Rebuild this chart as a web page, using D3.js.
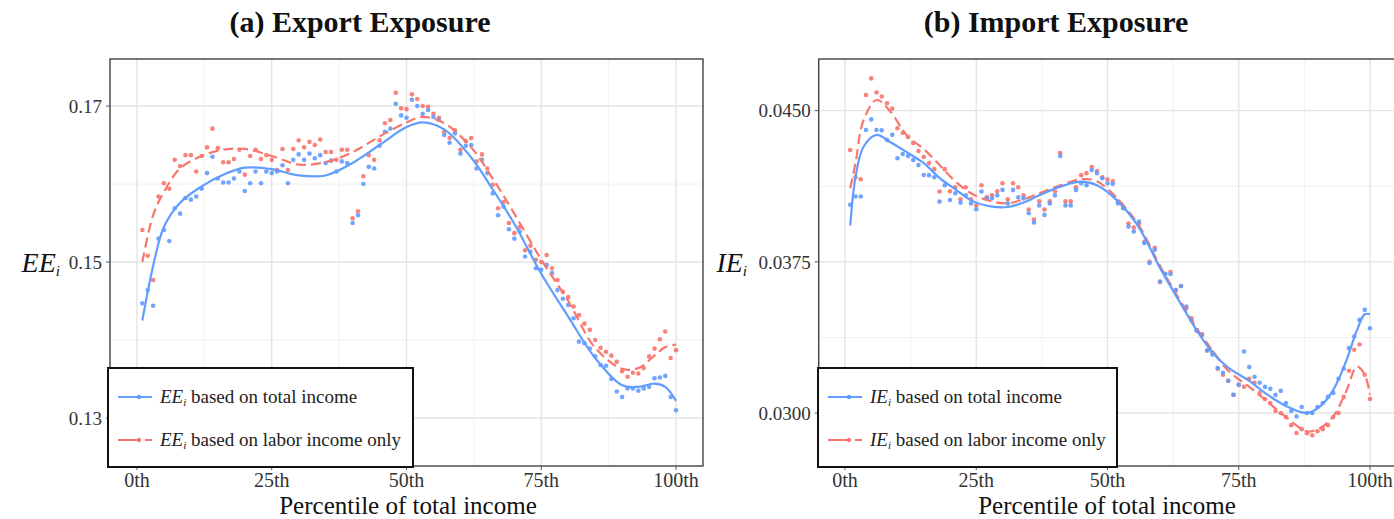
<!DOCTYPE html>
<html><head><meta charset="utf-8">
<script src="https://cdn.jsdelivr.net/npm/d3@7"></script>
<style>
body{margin:0;background:#fff}
svg{display:block}
text{font-family:"Liberation Serif","Times New Roman",serif}
</style>
</head><body>
<svg id="c" width="1394" height="519"></svg>
<script>
// ---------------- DATA ----------------
const percentiles = [1,2,3,4,5,6,7,8,9,10,11,12,13,14,15,16,17,18,19,20,21,22,23,24,25,26,27,28,29,30,31,32,33,34,35,36,37,38,39,40,41,42,43,44,45,46,47,48,49,50,51,52,53,54,55,56,57,58,59,60,61,62,63,64,65,66,67,68,69,70,71,72,73,74,75,76,77,78,79,80,81,82,83,84,85,86,87,88,89,90,91,92,93,94,95,96,97,98,99,100];
const xTickValues = [0, 25, 50, 75, 100];
const xTickLabels = ["0th", "25th", "50th", "75th", "100th"];
const xMinorValues = [12.5, 37.5, 62.5, 87.5];

// (a) Export exposure, by percentile
const eeTotal = [0.1447,0.1464,0.1444,0.1530,0.1541,0.1527,0.1569,0.1562,0.1582,0.1580,
0.1584,0.1594,0.1614,0.1635,0.1607,0.1602,0.1602,0.1607,0.1616,0.1591,
0.1601,0.1616,0.1601,0.1616,0.1614,0.1616,0.1624,0.1601,0.1631,0.1638,
0.1631,0.1639,0.1633,0.1637,0.1627,0.1630,0.1616,0.1629,0.1627,0.1550,
0.1560,0.1600,0.1622,0.1620,0.1649,0.1667,0.1671,0.1703,0.1688,0.1685,
0.1708,0.1700,0.1690,0.1695,0.1686,0.1682,0.1663,0.1653,0.1665,0.1639,
0.1649,0.1650,0.1620,0.1631,0.1614,0.1588,0.1560,0.1571,0.1542,0.1530,
0.1539,0.1507,0.1513,0.1492,0.1490,0.1496,0.1486,0.1464,0.1453,0.1445,
0.1428,0.1398,0.1396,0.1389,0.1379,0.1368,0.1367,0.1350,0.1334,0.1327,
0.1338,0.1338,0.1335,0.1338,0.1340,0.1351,0.1352,0.1354,0.1327,0.1310];
const eeLabor = [0.1541,0.1508,0.1477,0.1584,0.1601,0.1594,0.1631,0.1623,0.1637,0.1637,
0.1616,0.1636,0.1647,0.1671,0.1646,0.1628,0.1628,0.1632,0.1644,0.1612,
0.1636,0.1644,0.1632,0.1637,0.1631,0.1618,0.1645,0.1618,0.1645,0.1656,
0.1647,0.1654,0.1650,0.1657,0.1641,0.1641,0.1631,0.1644,0.1644,0.1556,
0.1565,0.1610,0.1637,0.1631,0.1656,0.1678,0.1682,0.1717,0.1697,0.1696,
0.1715,0.1709,0.1700,0.1699,0.1690,0.1685,0.1667,0.1659,0.1669,0.1644,
0.1655,0.1659,0.1629,0.1638,0.1620,0.1599,0.1569,0.1577,0.1550,0.1537,
0.1545,0.1515,0.1521,0.1503,0.1500,0.1509,0.1492,0.1477,0.1462,0.1455,
0.1443,0.1432,0.1421,0.1413,0.1400,0.1390,0.1385,0.1380,0.1372,0.1360,
0.1353,0.1358,0.1357,0.1364,0.1379,0.1389,0.1401,0.1411,0.1377,0.1387];
const eeSmoothPct   = [1,3,5,8,12,16,20,25,30,35,40,45,50,53,57,62,66,70,75,80,85,90,93,96,98,100];
const eeSmoothTotal = [0.1425,0.1495,0.1545,0.1576,0.1597,0.1612,0.1621,0.1619,0.1611,0.1611,0.1627,0.1650,0.1673,0.1679,0.1670,0.1634,0.1593,0.1549,0.1485,0.1430,0.1377,0.1342,0.1340,0.1344,0.1340,0.1322];
const eeSmoothLabor = [0.1500,0.1560,0.1590,0.1620,0.1636,0.1644,0.1645,0.1636,0.1625,0.1628,0.1641,0.1661,0.1679,0.1686,0.1678,0.1647,0.1607,0.1562,0.1503,0.1450,0.1390,0.1363,0.1364,0.1380,0.1391,0.1394];
const eeTicks = [0.13, 0.15, 0.17];
const eeTickLabels = ["0.13", "0.15", "0.17"];
const eeMinor = [0.14, 0.16];

// (b) Import exposure, by percentile
const ieTotal = [0.04033,0.04074,0.04074,0.04404,0.04457,0.04404,0.04403,0.04355,0.04380,0.04264,
0.04285,0.04275,0.04255,0.04230,0.04181,0.04180,0.04170,0.04049,0.04130,0.04057,
0.04090,0.04044,0.04080,0.04040,0.04011,0.04099,0.04065,0.04065,0.04080,0.04107,
0.04040,0.04107,0.04070,0.04065,0.03991,0.03945,0.04030,0.03983,0.04040,0.04080,
0.04275,0.04030,0.04030,0.04107,0.04140,0.04130,0.04206,0.04190,0.04165,0.04140,
0.04137,0.04040,0.04016,0.03925,0.03900,0.03950,0.03843,0.03744,0.03810,0.03652,
0.03690,0.03690,0.03610,0.03630,0.03528,0.03460,0.03410,0.03390,0.03310,0.03290,
0.03223,0.03200,0.03160,0.03091,0.03140,0.03305,0.03228,0.03180,0.03150,0.03130,
0.03120,0.03090,0.03110,0.03050,0.03010,0.02983,0.03030,0.03000,0.03000,0.03030,
0.03050,0.03080,0.03100,0.03170,0.03220,0.03322,0.03380,0.03462,0.03512,0.03421];
const ieLabor = [0.04305,0.04170,0.04160,0.04578,0.04660,0.04590,0.04570,0.04537,0.04510,0.04413,
0.04390,0.04370,0.04340,0.04300,0.04270,0.04240,0.04210,0.04099,0.04210,0.04100,
0.04120,0.04060,0.04120,0.04060,0.04030,0.04130,0.04070,0.04080,0.04100,0.04140,
0.04060,0.04140,0.04120,0.04080,0.04010,0.03960,0.04050,0.04010,0.04050,0.04100,
0.04290,0.04050,0.04050,0.04120,0.04180,0.04190,0.04220,0.04200,0.04170,0.04160,
0.04150,0.04050,0.04020,0.03940,0.03920,0.03940,0.03850,0.03750,0.03820,0.03650,
0.03690,0.03700,0.03610,0.03630,0.03520,0.03470,0.03410,0.03390,0.03310,0.03300,
0.03220,0.03190,0.03160,0.03090,0.03140,0.03130,0.03170,0.03150,0.03100,0.03070,
0.03050,0.03010,0.03000,0.02980,0.02940,0.02901,0.02920,0.02900,0.02890,0.02910,
0.02920,0.02940,0.02980,0.03000,0.03080,0.03210,0.03314,0.03340,0.03190,0.03070];
const ieSmoothPct   = [1,2,3.5,6,8.5,12,15,18,21,24,28,31,34,37,41,45,48,52,56,60,64,67,70,73,77,80,84,88,90.5,93,95.5,97.5,99,100];
const ieSmoothTotal = [0.0393,0.0417,0.0432,0.0438,0.04346,0.0429,0.0424,0.04167,0.0411,0.04055,0.04024,0.04022,0.04044,0.0408,0.04123,0.04148,0.0413,0.0405,0.0392,0.0372,0.0354,0.0341,0.0330,0.03225,0.0316,0.0310,0.03035,0.0300,0.03033,0.03115,0.0326,0.0341,0.0349,0.0349];
const ieSmoothLabor = [0.04115,0.0424,0.0445,0.04553,0.0450,0.0437,0.0431,0.0423,0.0415,0.0409,0.0405,0.0404,0.0406,0.0409,0.0413,0.0416,0.0415,0.0406,0.0393,0.0373,0.0355,0.0342,0.0331,0.0321,0.0313,0.03066,0.0298,0.02909,0.02926,0.02983,0.0311,0.0323,0.0319,0.0309];
const ieTicks = [0.0300, 0.0375, 0.0450];
const ieTickLabels = ["0.0300", "0.0375", "0.0450"];
const ieMinor = [0.03375, 0.04125];

const BLUE = "#619CFF", RED = "#F8766D";

// ---------------- DRAW ----------------
const svg = d3.select("#c");

function drawPanel(cfg) {
  const g = svg.append("g");
  const x = d3.scaleLinear().domain([-5, 105]).range([cfg.left, cfg.right]);
  const y = d3.scaleLinear().domain(cfg.yDomain).range([cfg.bottom, cfg.top]);
  const clipId = "clip" + cfg.id;
  svg.append("clipPath").attr("id", clipId).append("rect")
    .attr("x", cfg.left).attr("y", cfg.top)
    .attr("width", cfg.right - cfg.left).attr("height", cfg.bottom - cfg.top);
  const plot = g.append("g").attr("clip-path", `url(#${clipId})`);

  // grid
  plot.selectAll(".gxm").data(xMinorValues).enter().append("line")
    .attr("x1", d => x(d)).attr("x2", d => x(d)).attr("y1", cfg.top).attr("y2", cfg.bottom)
    .attr("stroke", "#f1f1f1").attr("stroke-width", 1);
  plot.selectAll(".gym").data(cfg.minor).enter().append("line")
    .attr("y1", d => y(d)).attr("y2", d => y(d)).attr("x1", cfg.left).attr("x2", cfg.right)
    .attr("stroke", "#f1f1f1").attr("stroke-width", 1);
  plot.selectAll(".gx").data(xTickValues).enter().append("line")
    .attr("x1", d => x(d)).attr("x2", d => x(d)).attr("y1", cfg.top).attr("y2", cfg.bottom)
    .attr("stroke", "#e4e4e4").attr("stroke-width", 1.4);
  plot.selectAll(".gy").data(cfg.ticks).enter().append("line")
    .attr("y1", d => y(d)).attr("y2", d => y(d)).attr("x1", cfg.left).attr("x2", cfg.right)
    .attr("stroke", "#e4e4e4").attr("stroke-width", 1.4);

  // dots
  const series = [{v: cfg.labor, c: RED}, {v: cfg.total, c: BLUE}];
  series.forEach(s => {
    plot.append("g").selectAll("circle").data(percentiles).enter().append("circle")
      .attr("cx", (d) => x(d)).attr("cy", (d, i) => y(s.v[i]))
      .attr("r", 2.3).attr("fill", s.c).attr("fill-opacity", 0.9);
  });

  // smooth lines
  const line = arr => d3.line().x((d) => x(d)).y((d, i) => y(arr[i])).curve(d3.curveCatmullRom.alpha(0.5));
  plot.append("path").datum(cfg.smoothPct).attr("d", line(cfg.smoothLabor))
    .attr("fill", "none").attr("stroke", RED).attr("stroke-width", 2.2)
    .attr("stroke-dasharray", "10,5");
  plot.append("path").datum(cfg.smoothPct).attr("d", line(cfg.smoothTotal))
    .attr("fill", "none").attr("stroke", BLUE).attr("stroke-width", 2.2);

  // border
  g.append("rect").attr("x", cfg.left).attr("y", cfg.top)
    .attr("width", cfg.right - cfg.left).attr("height", cfg.bottom - cfg.top)
    .attr("fill", "none").attr("stroke", "#333").attr("stroke-width", 1.3);

  // ticks
  g.selectAll(".ty").data(cfg.ticks).enter().append("line")
    .attr("x1", cfg.left - 4).attr("x2", cfg.left).attr("y1", d => y(d)).attr("y2", d => y(d))
    .attr("stroke", "#555").attr("stroke-width", 1);
  g.selectAll(".tx").data(xTickValues).enter().append("line")
    .attr("y1", cfg.bottom).attr("y2", cfg.bottom + 4).attr("x1", d => x(d)).attr("x2", d => x(d))
    .attr("stroke", "#555").attr("stroke-width", 1);
  g.selectAll(".tly").data(cfg.ticks).enter().append("text")
    .attr("x", cfg.left - 8).attr("y", d => y(d)).attr("dy", "0.35em")
    .attr("text-anchor", "end").attr("font-size", 19).attr("fill", "#333")
    .text((d, i) => cfg.tickLabels[i]);
  g.selectAll(".tlx").data(xTickValues).enter().append("text")
    .attr("x", d => x(d)).attr("y", 487)
    .attr("text-anchor", "middle").attr("font-size", 20).attr("fill", "#333")
    .text((d, i) => xTickLabels[i]);

  // axis titles
  g.append("text").attr("x", cfg.xTitleX).attr("y", 514)
    .attr("text-anchor", "middle").attr("font-size", 25).attr("fill", "#111")
    .text("Percentile of total income");
  const yl = g.append("text").attr("x", cfg.yLabelX).attr("y", 272)
    .attr("text-anchor", "end").attr("font-size", 28).attr("fill", "#111");
  yl.append("tspan").attr("font-style", "italic").text(cfg.sym);
  yl.append("tspan").attr("font-style", "italic").attr("font-size", 15).attr("dy", 4).text("i");

  // title
  g.append("text").attr("x", cfg.titleX).attr("y", 32).attr("text-anchor", "middle")
    .attr("font-size", 30).attr("font-weight", "bold").attr("fill", "#111")
    .text(cfg.title);

  // legend
  const L = cfg.legend;
  const lg = g.append("g");
  lg.append("rect").attr("x", L.x).attr("y", L.y).attr("width", L.w).attr("height", L.h)
    .attr("fill", "#fff").attr("stroke", "#111").attr("stroke-width", 2);
  const items = [
    {c: BLUE, dash: null, txt: " based on total income", yy: L.y + 29},
    {c: RED, dash: "22,5,6,0", txt: " based on labor income only", yy: L.y + 72}
  ];
  items.forEach(it => {
    const ln = lg.append("line").attr("x1", L.x + 10).attr("x2", L.x + 44)
      .attr("y1", it.yy).attr("y2", it.yy).attr("stroke", it.c).attr("stroke-width", 2.2);
    if (it.dash) ln.attr("stroke-dasharray", it.dash);
    lg.append("circle").attr("cx", L.x + 31).attr("cy", it.yy).attr("r", 2.2).attr("fill", it.c);
    const t = lg.append("text").attr("x", L.x + 52).attr("y", it.yy + 6)
      .attr("font-size", 19).attr("fill", "#222");
    t.append("tspan").attr("font-style", "italic").text(cfg.sym);
    t.append("tspan").attr("font-style", "italic").attr("font-size", 11).attr("dy", 3).text("i");
    t.append("tspan").attr("dy", -3).text(it.txt);
  });
}

drawPanel({
  id: "a", left: 110, right: 703, top: 59, bottom: 466,
  yDomain: [0.12385, 0.17603], ticks: eeTicks, tickLabels: eeTickLabels, minor: eeMinor,
  total: eeTotal, labor: eeLabor,
  smoothPct: eeSmoothPct, smoothTotal: eeSmoothTotal, smoothLabor: eeSmoothLabor,
  sym: "EE", yLabelX: 60, title: "(a) Export Exposure", titleX: 360, xTitleX: 408,
  legend: {x: 108, y: 368, w: 305, h: 99}
});
drawPanel({
  id: "b", left: 818.75, right: 1396.25, top: 59, bottom: 466,
  yDomain: [0.027373, 0.047563], ticks: ieTicks, tickLabels: ieTickLabels, minor: ieMinor,
  total: ieTotal, labor: ieLabor,
  smoothPct: ieSmoothPct, smoothTotal: ieSmoothTotal, smoothLabor: ieSmoothLabor,
  sym: "IE", yLabelX: 747, title: "(b) Import Exposure", titleX: 1056, xTitleX: 1107,
  legend: {x: 818, y: 368, w: 299, h: 99}
});
</script>
</body></html>
